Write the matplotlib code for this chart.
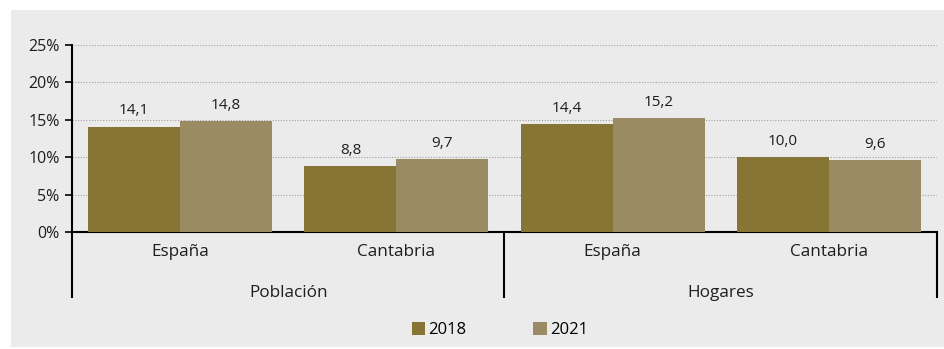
import numpy as np
import matplotlib.pyplot as plt
import matplotlib.transforms as mtransforms
from matplotlib.patches import Rectangle

plt.rcParams['font.family'] = ['Open Sans', 'DejaVu Sans']

groups = ['Población', 'Hogares']
regions = ['España', 'Cantabria', 'España', 'Cantabria']
years = ['2018', '2021']
vals_2018 = [14.1, 8.8, 14.4, 10.0]
vals_2021 = [14.8, 9.7, 15.2, 9.6]
yticks = [0, 5, 10, 15, 20, 25]

col_2018 = '#877535'
col_2021 = '#9a8b64'
bg = '#ebebeb'
txt = '#1e1e1e'

fig = plt.figure(figsize=(9.45, 3.49), dpi=100)
fig.patch.set_facecolor('white')
# grey panel behind the chart
fig.patches.append(Rectangle((11 / 945, 2 / 349), 934 / 945, 337 / 349,
                             transform=fig.transFigure, facecolor=bg,
                             edgecolor='none', zorder=-10))

ax = fig.add_axes([72 / 945, 1 - 232 / 349, 865 / 945, 187 / 349])
ax.set_facecolor(bg)

x = np.arange(len(regions))
w = 0.425
b1 = ax.bar(x - w / 2, vals_2018, w, color=col_2018, label=years[0], zorder=3)
b2 = ax.bar(x + w / 2, vals_2021, w, color=col_2021, label=years[1], zorder=3)

for bars, vals in ((b1, vals_2018), (b2, vals_2021)):
    for r, v in zip(bars, vals):
        ax.annotate(f'{v:.1f}'.replace('.', ','),
                    xy=(r.get_x() + r.get_width() / 2, v),
                    xytext=(0, 6), textcoords='offset points',
                    ha='center', va='bottom', fontsize=11, color=txt)

ax.set_xlim(-0.5, len(regions) - 0.5)
ax.set_ylim(0, 25)
ax.set_yticks(yticks)
ax.set_yticklabels([f'{t}%' for t in yticks], fontsize=11.5, color=txt)
ax.yaxis.grid(True, linestyle=(0, (1, 1.5)), color='#a0a0a0', linewidth=0.8)
ax.set_axisbelow(True)
ax.tick_params(axis='y', length=5, width=1.2, color='black', pad=4)
ax.set_xticks([])

for s in ('top', 'right'):
    ax.spines[s].set_visible(False)
ax.spines['left'].set_linewidth(1.5)
ax.spines['bottom'].set_linewidth(1.5)

# two-level category axis
trans = mtransforms.blended_transform_factory(ax.transData, ax.transAxes)
for i, name in enumerate(regions):
    ax.text(i, -0.105, name, transform=trans, ha='center', va='center',
            fontsize=12.3, color=txt)
for j, g in enumerate(groups):
    ax.text(2 * j + 0.5, -0.325, g, transform=trans, ha='center', va='center',
            fontsize=12.3, color=txt)
for xs in (-0.5, 1.5, 3.5):
    ax.plot([xs, xs], [0, -0.35], transform=trans, color='black',
            linewidth=1.5, clip_on=False)

fig.legend(handles=[b1, b2], labels=years, loc='center',
           bbox_to_anchor=(0.529, 1 - 330 / 349), ncol=2, frameon=False,
           fontsize=12, handlelength=0.8, handleheight=0.8,
           handletextpad=0.2, columnspacing=4.0)

fig.savefig('out.png', dpi=100, facecolor=fig.get_facecolor())
